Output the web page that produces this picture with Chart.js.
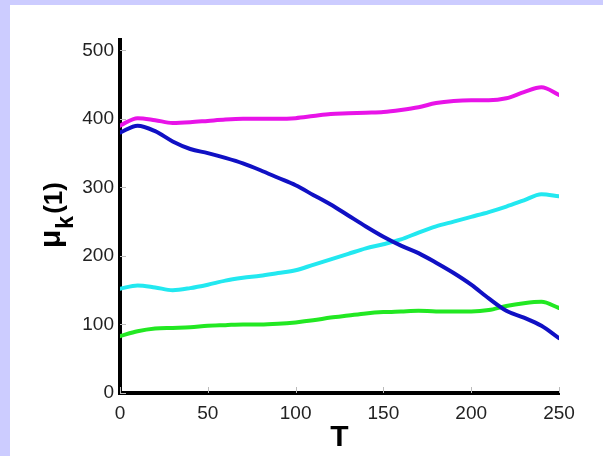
<!DOCTYPE html>
<html>
<head>
<meta charset="utf-8">
<script src="https://cdn.jsdelivr.net/npm/chart.js@4"></script>
<style>
  html, body { margin: 0; padding: 0; background: #ccccff; }
  #wrap { width: 603px; height: 456px; }
</style>
</head>
<body>
<div id="wrap"><canvas id="myChart" width="603" height="456"></canvas></div>
<script>
// T軸の値
var t_values = [0,10,20,30,40,50,60,70,80,90,100,110,120,130,140,150,160,170,180,190,200,210,220,230,240,250];
// 各系列（絵から読んだ値）
var magenta_values = [390,401,398,394,395,397,399,400,400,400,401,404,407,408,409,410,413,417,423,426,427,427,430,439,446,435];
var blue_values    = [380,390,382,367,356,350,343,335,325,314,303,289,275,259,243,228,215,204,190,175,158,138,120,110,98,80];
var cyan_values    = [152,157,154,150,153,158,164,168,171,175,179,187,195,203,211,217,224,234,243,250,257,264,272,281,290,287];
var green_values   = [83,90,94,95,96,98,99,100,100,101,103,106,110,113,116,118,119,120,119,119,119,121,127,131,133,124];
// 目盛り
var x_ticks = [0,50,100,150,200,250];
var y_ticks = [0,100,200,300,400,500];

function to_points(vals){
    return vals.map(function(v, i){ return {x: t_values[i], y: v}; });
}

function make_set(vals, color){
    return {
        data: to_points(vals),
        borderColor: color,
        borderWidth: 4,
        pointRadius: 0,
        fill: false,
        tension: 0.4,
        cubicInterpolationMode: 'monotone',
        borderCapStyle: 'round',
        borderJoinStyle: 'round'
    };
}

// 背景（左と上だけ薄紫）
var bg_plugin = {
    id: 'bg',
    beforeDraw: function(chart){
        var c = chart.ctx;
        c.save();
        c.fillStyle = '#ccccff';
        c.fillRect(0, 0, chart.width, chart.height);
        c.fillStyle = '#ffffff';
        c.fillRect(10, 5, chart.width - 10, chart.height - 5);
        c.restore();
    }
};

// 内向きの小さい目盛りと、縦軸のラベル μ_k^(1)
var extra_plugin = {
    id: 'extra',
    afterDraw: function(chart){
        var c = chart.ctx;
        var xs = chart.scales.x, ys = chart.scales.y;
        var area = chart.chartArea;
        c.save();
        c.strokeStyle = '#bbbbbb';
        c.lineWidth = 1;
        y_ticks.forEach(function(v){
            var py = Math.round(ys.getPixelForValue(v)) + 0.5;
            c.beginPath(); c.moveTo(area.left, py); c.lineTo(area.left + 6, py); c.stroke();
        });
        x_ticks.forEach(function(v){
            var px = Math.round(xs.getPixelForValue(v)) + 0.5;
            c.beginPath(); c.moveTo(px, area.bottom); c.lineTo(px, area.bottom - 6); c.stroke();
        });
        // 縦軸ラベル
        c.translate(60, 248);
        c.rotate(-Math.PI / 2);
        c.fillStyle = '#000';
        c.textBaseline = 'alphabetic';
        c.textAlign = 'left';
        c.font = 'bold 30px "Liberation Sans", Arial, sans-serif';
        c.fillText('μ', 0, 0);
        var w = c.measureText('μ').width;
        c.font = 'bold 23px "Liberation Sans", Arial, sans-serif';
        c.fillText('k', w + 1, 13);
        var wk = c.measureText('k').width;
        c.font = 'bold 26px "Liberation Sans", Arial, sans-serif';
        c.fillText('(1)', w + wk + 3, 2);
        c.restore();
    }
};

var ctx = document.getElementById('myChart');
var tick_font = { family: '"Liberation Sans", Arial, sans-serif', size: 19 };

var line_chart = new Chart(ctx, {
    type: 'line',
    data: {
        datasets: [
            make_set(magenta_values, '#e813e8'),
            make_set(blue_values, '#1010c4'),
            make_set(cyan_values, '#22e8f0'),
            make_set(green_values, '#22e822')
        ]
    },
    options: {
        responsive: false,
        animation: false,
        maintainAspectRatio: false,
        layout: { padding: { left: 0, top: 40, right: 44, bottom: 0 } },
        plugins: {
            legend: { display: false },
            tooltip: { enabled: false }
        },
        scales: {
            x: {
                type: 'linear',
                min: 0,
                max: 250,
                afterBuildTicks: function(scale){
                    scale.ticks = x_ticks.map(function(v){ return {value: v}; });
                },
                afterFit: function(scale){ scale.height = 63; },
                grid: { drawOnChartArea: false, drawTicks: false },
                border: { color: '#000', width: 4 },
                ticks: { color: '#222', font: tick_font, padding: 9, maxRotation: 0 },
                title: {
                    display: true,
                    text: 'T',
                    color: '#000',
                    font: { family: '"Liberation Sans", Arial, sans-serif', size: 30, weight: 'bold' },
                    padding: { top: 3, bottom: 0 }
                }
            },
            y: {
                type: 'linear',
                min: 0,
                max: 515,
                afterBuildTicks: function(scale){
                    scale.ticks = y_ticks.map(function(v){ return {value: v}; });
                },
                afterFit: function(scale){ scale.width = 120; },
                grid: { drawOnChartArea: false, drawTicks: false },
                border: { color: '#000', width: 4 },
                ticks: { color: '#222', font: tick_font, padding: 6 }
            }
        }
    },
    plugins: [bg_plugin, extra_plugin]
});
</script>
</body>
</html>
